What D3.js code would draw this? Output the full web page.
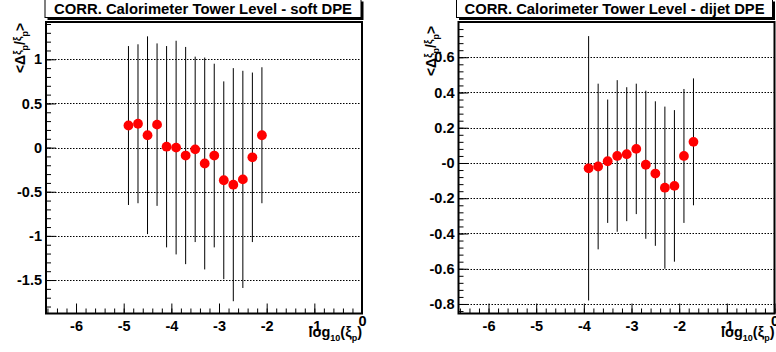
<!DOCTYPE html>
<html><head><meta charset="utf-8">
<script src="https://cdn.jsdelivr.net/npm/d3@7"></script>
<style>
html,body{margin:0;padding:0;background:#fff;}
svg{display:block;font-family:"Liberation Sans",Arial,Helvetica,sans-serif;font-weight:bold;}
</style></head>
<body>
<svg id="c" width="776" height="352"></svg>
<script>
// ---- data ----
const titles = ["CORR. Calorimeter Tower Level - soft DPE", "CORR. Calorimeter Tower Level - dijet DPE"];
const leftX   = [-4.9, -4.7, -4.5, -4.3, -4.1, -3.9, -3.7, -3.5, -3.3, -3.1, -2.9, -2.7, -2.5, -2.3, -2.1];
const leftY   = [0.25, 0.27, 0.14, 0.26, 0.01, 0.00, -0.09, -0.02, -0.18, -0.09, -0.37, -0.42, -0.36, -0.11, 0.14];
const leftErr = [0.90, 0.90, 1.12, 0.92, 1.14, 1.21, 1.23, 1.05, 1.20, 1.04, 1.12, 1.32, 1.23, 0.96, 0.77];
const rightX   = [-3.9, -3.7, -3.5, -3.3, -3.1, -2.9, -2.7, -2.5, -2.3, -2.1, -1.9, -1.7];
const rightY   = [-0.03, -0.02, 0.01, 0.04, 0.05, 0.08, -0.01, -0.06, -0.14, -0.13, 0.04, 0.12];
const rightErr = [0.75, 0.47, 0.35, 0.43, 0.38, 0.37, 0.42, 0.41, 0.46, 0.43, 0.38, 0.36];
const xTicks = [-6, -5, -4, -3, -2, -1, 0];
const xTickLabels = ["-6", "-5", "-4", "-3", "-2", "-1", "0"];
const leftYTicks = [-1.5, -1, -0.5, 0, 0.5, 1];
const leftYTickLabels = ["-1.5", "-1", "-0.5", "0", "0.5", "1"];
const rightYTicks = [-0.8, -0.6, -0.4, -0.2, 0, 0.2, 0.4, 0.6];
const rightYTickLabels = ["-0.8", "-0.6", "-0.4", "-0.2", "-0", "0.2", "0.4", "0.6"];

const svg = d3.select("#c");
const FONT = "Liberation Sans, Arial, Helvetica, sans-serif";

function panel(o) {
  const g = svg.append("g");
  const x = d3.scaleLinear().domain(o.xDomain).range([o.left, o.right]);
  const y = d3.scaleLinear().domain(o.yDomain).range([o.bottom, o.top]);

  // grid (dotted horizontal)
  g.append("g").selectAll("line").data(o.yTicks).join("line")
    .attr("x1", o.left).attr("x2", o.right)
    .attr("y1", d => Math.round(y(d)) + 0.5).attr("y2", d => Math.round(y(d)) + 0.5)
    .attr("stroke", "#000").attr("stroke-width", 1).attr("stroke-dasharray", "1.5,1.5");

  // minor ticks
  const yMinor = d3.range(Math.ceil(o.yDomain[0] / o.yMinorStep), Math.floor(o.yDomain[1] / o.yMinorStep) + 1)
    .map(k => +(k * o.yMinorStep).toFixed(4));
  const xMinor = d3.range(Math.ceil(o.xDomain[0] / 0.2), Math.floor(o.xDomain[1] / 0.2) + 1)
    .map(k => +(k * 0.2).toFixed(4));

  const yAxisMinor = d3.axisLeft(y).tickValues(yMinor).tickSize(-5).tickFormat("");
  const xAxisMinor = d3.axisBottom(x).tickValues(xMinor).tickSize(-5).tickFormat("");
  g.append("g").attr("transform", `translate(${o.left},0)`).call(yAxisMinor).call(s => s.select(".domain").remove());
  g.append("g").attr("transform", `translate(0,${o.bottom})`).call(xAxisMinor).call(s => s.select(".domain").remove());

  const yAxis = d3.axisLeft(y).tickValues(o.yTicks).tickSize(-10).tickPadding(4)
    .tickFormat((d, i) => o.yLabels[i]);
  const xAxis = d3.axisBottom(x).tickValues(xTicks).tickSize(-10).tickPadding(7)
    .tickFormat((d, i) => xTickLabels[i]);
  const ya = g.append("g").attr("transform", `translate(${o.left},0)`).call(yAxis);
  ya.select(".domain").remove();
  ya.selectAll("text").attr("font-size", 14.5).attr("font-weight", "bold").attr("font-family", FONT).attr("fill", "#000");
  const xa = g.append("g").attr("transform", `translate(0,${o.bottom})`).call(xAxis);
  xa.select(".domain").remove();
  xa.selectAll("text").attr("font-size", 14.5).attr("font-weight", "bold").attr("font-family", FONT).attr("fill", "#000")
    .filter(d => d === 0).attr("dy", "0.35em");
  g.selectAll(".tick line").attr("stroke", "#000");

  // frame
  g.append("rect").attr("x", o.left).attr("y", o.top).attr("width", o.right - o.left).attr("height", o.bottom - o.top)
    .attr("fill", "none").attr("stroke", "#000").attr("stroke-width", 2);

  // error bars
  g.append("g").selectAll("line").data(o.xs).join("line")
    .attr("x1", d => x(d)).attr("x2", d => x(d))
    .attr("y1", (d, i) => y(o.ys[i] + o.errs[i])).attr("y2", (d, i) => y(o.ys[i] - o.errs[i]))
    .attr("stroke", "#000").attr("stroke-width", 1);
  // markers
  g.append("g").selectAll("circle").data(o.xs).join("circle")
    .attr("cx", d => x(d)).attr("cy", (d, i) => y(o.ys[i])).attr("r", 4.9)
    .attr("fill", "#ff0000");

  // title box
  g.append("rect").attr("x", o.boxX + 2.5).attr("y", -1 + 2.5).attr("width", o.boxW).attr("height", 18.5).attr("fill", "#000");
  g.append("rect").attr("x", o.boxX).attr("y", -1).attr("width", o.boxW).attr("height", 18.5)
    .attr("fill", "#fff").attr("stroke", "#000").attr("stroke-width", 1);
  g.append("text").attr("x", o.boxX + o.boxW / 2).attr("y", 14).attr("text-anchor", "middle")
    .attr("font-size", 14).attr("textLength", o.textW).attr("lengthAdjust", "spacingAndGlyphs").text(o.title);

  // y-axis title
  const yt = g.append("text").attr("transform", `translate(${o.yTitleX},${o.yTitleY}) rotate(-90)`)
    .attr("text-anchor", "middle").attr("font-size", 14);
  yt.append("tspan").text("<Δ");
  yt.append("tspan").attr("font-size", 10).attr("dy", -4).text("ξ");
  yt.append("tspan").attr("font-size", 9).attr("dy", 7).text("p");
  yt.append("tspan").attr("dy", -3).text("/");
  yt.append("tspan").attr("font-size", 10).attr("dy", -4).text("ξ");
  yt.append("tspan").attr("font-size", 9).attr("dy", 7).text("p");
  yt.append("tspan").attr("dy", -3).text(">");

  // x-axis title
  const xt = g.append("text").attr("x", o.right).attr("y", 337).attr("text-anchor", "end").attr("font-size", 14.5);
  xt.append("tspan").text("log");
  xt.append("tspan").attr("font-size", 9).attr("dy", 4).text("10");
  xt.append("tspan").attr("dy", -4).text("(ξ");
  xt.append("tspan").attr("font-size", 9).attr("dy", 4).text("p");
  xt.append("tspan").attr("dy", -4).text(")");
}

panel({
  left: 46, right: 362, top: 22, bottom: 313.5,
  xDomain: [-6.63, 0], yDomain: [-1.879, 1.4225], yMinorStep: 0.1,
  yTicks: leftYTicks, yLabels: leftYTickLabels,
  xs: leftX, ys: leftY, errs: leftErr,
  boxX: 45, boxW: 316, textW: 298, title: titles[0],
  yTitleX: 25, yTitleY: 48
});
panel({
  left: 458.5, right: 774.5, top: 22, bottom: 313.5,
  xDomain: [-6.63, 0], yDomain: [-0.854, 0.80], yMinorStep: 0.04,
  yTicks: rightYTicks, yLabels: rightYTickLabels,
  xs: rightX, ys: rightY, errs: rightErr,
  boxX: 456.5, boxW: 316, textW: 300, title: titles[1],
  yTitleX: 436, yTitleY: 51
});
</script>
</body></html>
